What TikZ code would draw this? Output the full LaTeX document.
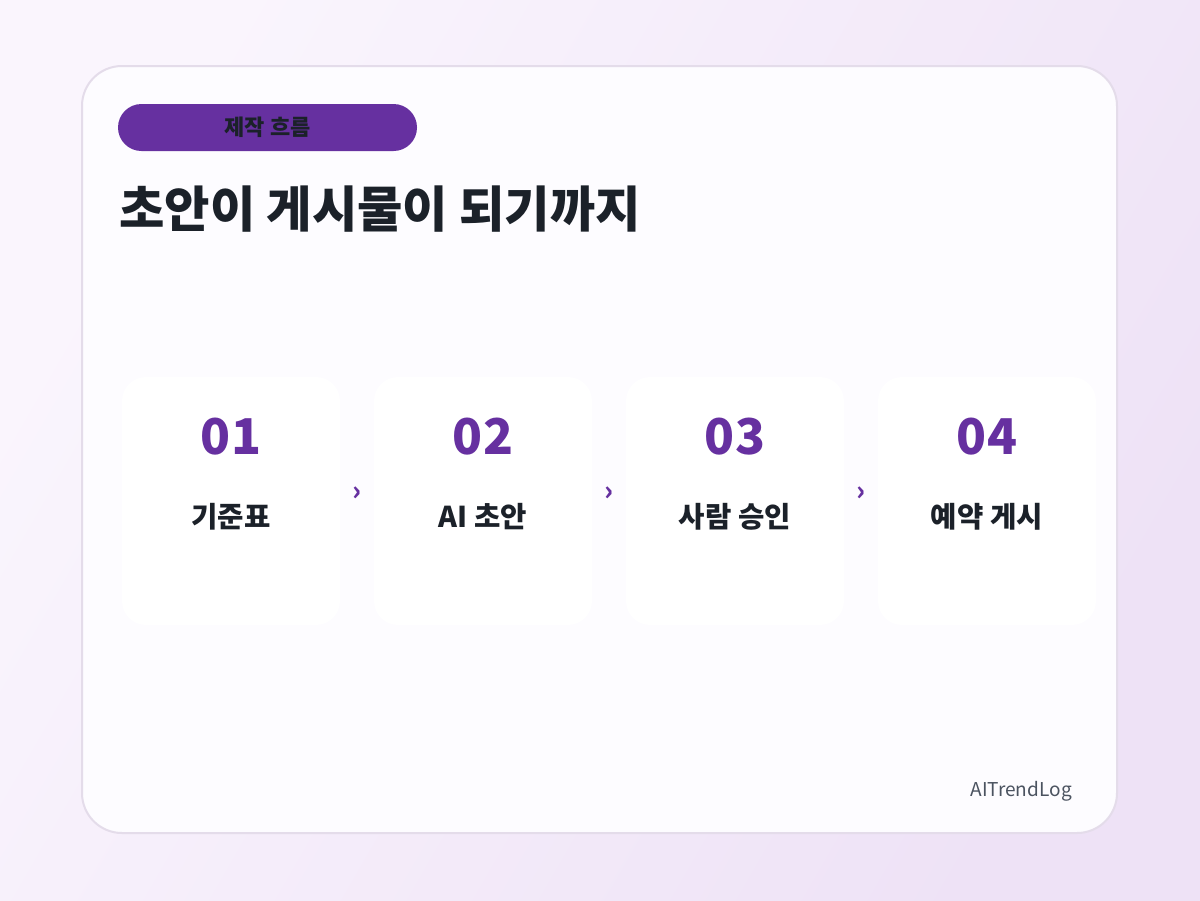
\documentclass[tikz,border=0pt]{standalone}
\usepackage{fontspec}
\setmainfont{Noto Sans CJK KR}
\usepackage{tikz}
\usetikzlibrary{positioning}

\definecolor{bgtl}{HTML}{FAF5FD}
\definecolor{bgbr}{HTML}{EEE2F6}
\definecolor{cardbg}{HTML}{FDFCFF}
\definecolor{cardline}{HTML}{E4DCEA}
\definecolor{flowpurple}{HTML}{6630A0}
\definecolor{inkdark}{HTML}{1B2129}
\definecolor{inkgray}{HTML}{4B5360}

\tikzset{
  pill/.style={fill=flowpurple, rounded corners=17.6pt, minimum width=224.25pt,
    minimum height=35.25pt, inner sep=0pt, text=inkdark, font=\bfseries\fontsize{16.5}{16.5}\selectfont},
  stepcard/.style={fill=white, rounded corners=18pt, minimum width=163.5pt,
    minimum height=186pt, inner sep=0pt},
  stepnum/.style={text=flowpurple, font=\bfseries\fontsize{37}{37}\selectfont, inner sep=0pt},
  steplabel/.style={text=inkdark, font=\bfseries\fontsize{21.5}{21.5}\selectfont, inner sep=0pt},
  chev/.style={text=flowpurple, font=\bfseries\fontsize{20}{20}\selectfont, inner sep=0pt}
}

\begin{document}
\begin{tikzpicture}[x=0.75pt, y=-0.75pt]

   \useasboundingbox (0,0) rectangle (1200,900);
   \shade[left color=bgtl, right color=bgbr, shading angle=60] (0,0) rectangle (1200,900);

   % main card
   \draw[fill=cardbg, draw=cardline, line width=1.5pt, rounded corners=30pt] (82,66) rectangle (1117,833);

   % header
   \node[pill] (tag) at (267.5,127.5) {제작 흐름};
   \node[anchor=base west, inner sep=0pt, text=inkdark, font=\bfseries\fontsize{37}{37}\selectfont]
      (title) at (119,227) {초안이 게시물이 되기까지};

   % steps
   \node[stepcard] (s1) at (231,501) {};
   \node[stepcard] (s2) at (483,501) {};
   \node[stepcard] (s3) at (735,501) {};
   \node[stepcard] (s4) at (987,501) {};

   \node[stepnum] (n1) at (231,437) {01};
   \node[stepnum] (n2) at (483,437) {02};
   \node[stepnum] (n3) at (735,437) {03};
   \node[stepnum] (n4) at (987,437) {04};

   \node[steplabel] (l1) at (231,517) {기준표};
   \node[steplabel] (l2) at (483,517) {AI 초안};
   \node[steplabel] (l3) at (735,517) {사람 승인};
   \node[steplabel] (l4) at (987,517) {예약 게시};

   \node[chev] (a1) at (357,494) {›};
   \node[chev] (a2) at (609,494) {›};
   \node[chev] (a3) at (861,494) {›};

   % footer
   \node[anchor=east, inner sep=0pt, text=inkgray, font=\fontsize{14.3}{14.3}\selectfont]
      (brand) at (1072,791) {AITrendLog};

\end{tikzpicture}
\end{document}
